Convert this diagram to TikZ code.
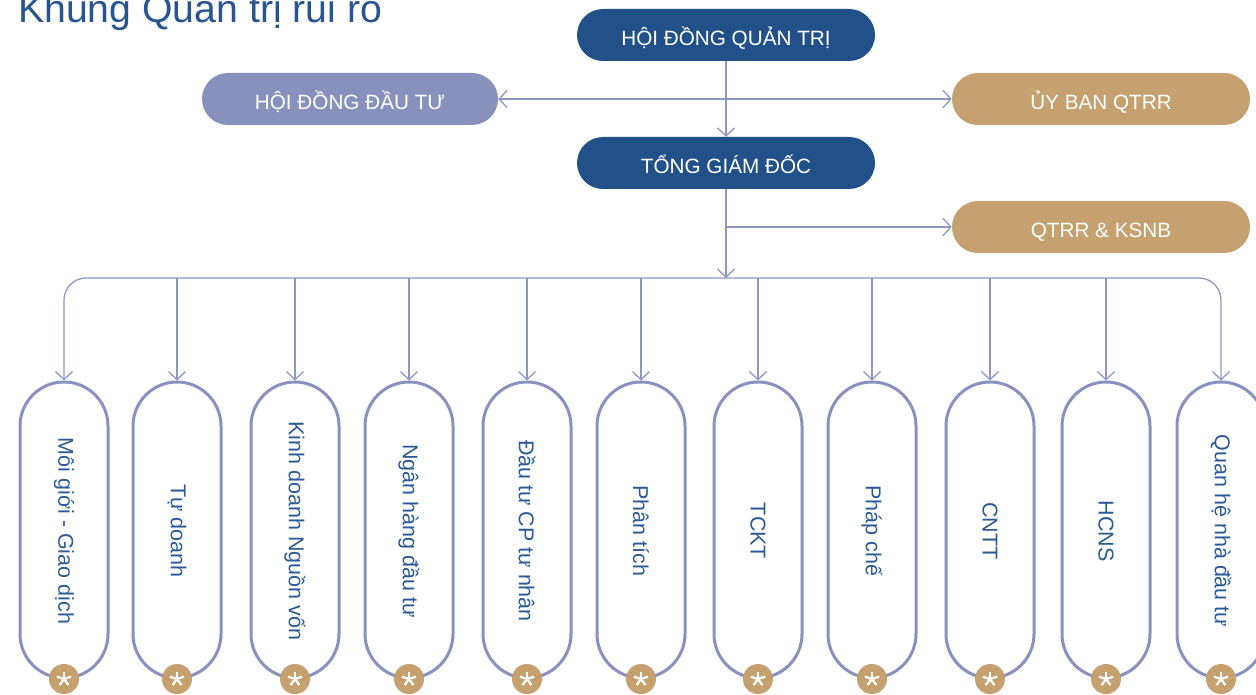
\documentclass[tikz,border=0pt]{standalone}
\usepackage{fontspec}
\setmainfont{Liberation Sans}
\usetikzlibrary{arrows.meta}
\definecolor{dblue}{HTML}{22518A}
\definecolor{lav}{HTML}{8891BC}
\definecolor{gold}{HTML}{C4A16E}
\definecolor{linec}{HTML}{8E98C6}
\definecolor{pborder}{HTML}{8891BF}
\definecolor{tblue}{HTML}{2B5A98}
\definecolor{titlec}{HTML}{285492}
\begin{document}
\begin{tikzpicture}[x=1pt,y=-1pt,
  conn/.style={draw=linec, line width=1.3pt},
  barb/.style={-{Straight Barb[length=8pt,width=17pt]}},
  dbarb/.style={{Straight Barb[length=8pt,width=17pt]}-{Straight Barb[length=8pt,width=17pt]}},
  hbox/.style={rectangle, rounded corners=26pt, minimum width=298pt, minimum height=52pt, inner sep=0pt, text=white, text height=20.8pt, text depth=0pt, font=\fontsize{20.7}{24}\selectfont},
  pill/.style={rectangle, rounded corners=44pt, minimum width=88pt, minimum height=296pt, draw=pborder, line width=3pt, fill=white},
  vtext/.style={rotate=-90, text=tblue, font=\fontsize{21.5}{25}\selectfont, inner sep=0pt},
  badge/.style={circle, fill=gold, minimum size=30pt, inner sep=0pt},
  ast/.pic={\foreach \a in {-90,-18,-162,54,126} \draw[white, line width=2.2pt] (0,0) -- (\a:7.5);}
]
\useasboundingbox (0,0) rectangle (1256,695);

\node[anchor=base west, inner sep=0pt, text=titlec, font=\fontsize{39.2}{42}\selectfont] (title) at (18,23) {Khung Quản trị rủi ro};

\node[hbox, fill=dblue] (hdqt) at (726,35) {HỘI ĐỒNG QUẢN TRỊ};
\node[hbox, fill=dblue] (tgd) at (726,163) {TỔNG GIÁM ĐỐC};
\node[hbox, fill=lav, minimum width=296pt] (hddt) at (350,99) {HỘI ĐỒNG ĐẦU TƯ};
\node[hbox, fill=gold] (ubq) at (1101,99) {ỦY BAN QTRR};
\node[hbox, fill=gold] (ksnb) at (1101,227) {QTRR \& KSNB};

\coordinate (bus) at (726,278);
\coordinate (jn) at (726,227);

\draw[conn, dbarb] (hddt.east) -- (ubq.west);
\draw[conn, barb] (hdqt.south) -- (tgd.north);
\draw[conn, barb] (tgd.south) -- (bus);
\draw[conn, barb] (jn) -- (ksnb.west);

\foreach \i/\x/\t in {1/64/{Môi giới - Giao dịch},2/177/{Tự doanh},3/295/{Kinh doanh Nguồn vốn},4/409/{Ngân hàng đầu tư},5/527/{Đầu tư CP tư nhân},6/641/{Phân tích},7/758/{TCKT},8/872/{Pháp chế},9/990/{CNTT},10/1106/{HCNS},11/1221/{Quan hệ nhà đầu tư}}{
  \node[pill] (p\i) at (\x,530) {};
  \node[vtext] (t\i) at (\x,531) {\t};
  \node[badge] (s\i) at (\x,679) {};
  \pic at (\x,679) {ast};
}

\draw[conn, dbarb, rounded corners=22pt] (p1.north) -- (p1.north |- bus) -- (p11.north |- bus) -- (p11.north);
\foreach \i in {2,...,10} \draw[conn, barb] (p\i.north |- bus) -- (p\i.north);
\end{tikzpicture}
\end{document}
